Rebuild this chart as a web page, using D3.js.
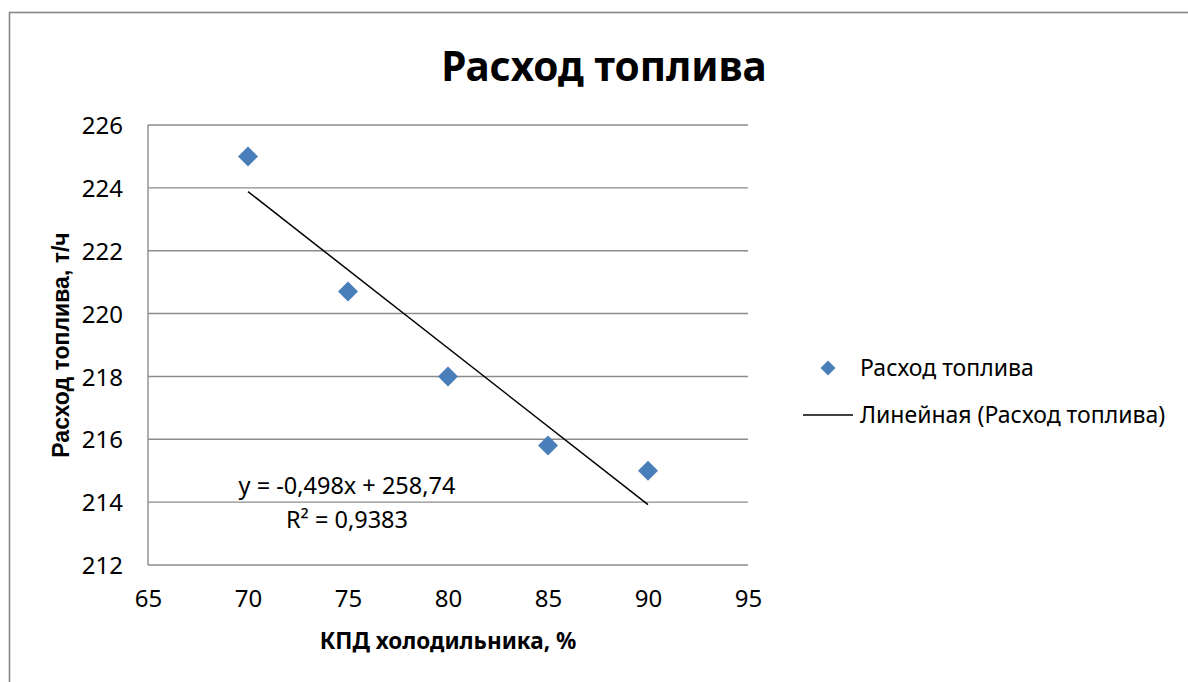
<!DOCTYPE html>
<html><head><meta charset="utf-8">
<script src="https://cdn.jsdelivr.net/npm/d3@7"></script>
<style>body{margin:0;background:#fff}svg{display:block}</style>
</head><body>
<script>
const efficiency = [70, 75, 80, 85, 90];
const fuel = [225, 220.7, 218, 215.8, 215];
const xTicks = [65, 70, 75, 80, 85, 90, 95];
const yTicks = [212, 214, 216, 218, 220, 222, 224, 226];
const trendSlope = -0.498, trendIntercept = 258.74;
const trendRange = [70, 90];
const titleText = "Расход топлива";
const xTitle = "КПД холодильника, %";
const yTitle = "Расход топлива, т/ч";
const eqText = "y = -0,498x + 258,74";
const r2Text = "R² = 0,9383";
const legendLabels = ["Расход топлива", "Линейная (Расход топлива)"];

const W = 1188, H = 682;
const font = "'Noto Sans', 'Open Sans', sans-serif";
const svg = d3.select("body").append("svg").attr("width", W).attr("height", H);

svg.append("rect").attr("x", 9.5).attr("y", 12.5).attr("width", 1300).attr("height", 800)
  .attr("fill", "none").attr("stroke", "#878787").attr("stroke-width", 1.6);

const x = d3.scaleLinear().domain([65, 95]).range([148, 748]);
const y = d3.scaleLinear().domain([212, 226]).range([565, 125]);

// gridlines
svg.append("g").selectAll("line").data(yTicks).join("line")
  .attr("x1", x(65)).attr("x2", x(95)).attr("y1", d => y(d)).attr("y2", d => y(d))
  .attr("stroke", "#8c8c8c").attr("stroke-width", 1.4);
svg.append("line").attr("x1", x(65)).attr("x2", x(65)).attr("y1", y(212)).attr("y2", y(226))
  .attr("stroke", "#8c8c8c").attr("stroke-width", 1.4);

// axes labels via d3 axes
const yAxis = svg.append("g").attr("transform", `translate(${x(65)},0)`)
  .call(d3.axisLeft(y).tickValues(yTicks).tickSize(0).tickPadding(25).tickFormat(d3.format("d")));
const xAxis = svg.append("g").attr("transform", `translate(0,${y(212)})`)
  .call(d3.axisBottom(x).tickValues(xTicks).tickSize(0).tickPadding(25).tickFormat(d3.format("d")));
[yAxis, xAxis].forEach(g => {
  g.select(".domain").remove();
  g.selectAll("text").attr("font-family", font).attr("font-size", 24).attr("fill", "#000");
});
yAxis.selectAll("text").attr("dy", "0.36em");
xAxis.selectAll("text").attr("dy", "0.72em");

// trendline
svg.append("line")
  .attr("x1", x(trendRange[0])).attr("y1", y(trendSlope * trendRange[0] + trendIntercept))
  .attr("x2", x(trendRange[1])).attr("y2", y(trendSlope * trendRange[1] + trendIntercept))
  .attr("stroke", "#000").attr("stroke-width", 1.5);

// markers
const diamond = d3.symbol().type(d3.symbolSquare).size(200);
svg.append("g").selectAll("path").data(efficiency.map((e, i) => [e, fuel[i]])).join("path")
  .attr("d", diamond)
  .attr("transform", d => `translate(${x(d[0])},${y(d[1])}) rotate(45)`)
  .attr("fill", "#4a7ebb");

// title
svg.append("text").attr("x", 604).attr("y", 81).attr("text-anchor", "middle")
  .attr("font-family", font).attr("font-weight", "bold").attr("font-size", 40.5).text(titleText);

// axis titles
svg.append("text").attr("x", x(80)).attr("y", 649).attr("text-anchor", "middle")
  .attr("font-family", font).attr("font-weight", "bold").attr("font-size", 22.5).text(xTitle);
svg.append("text").attr("transform", `translate(69,${(y(212) + y(226)) / 2}) rotate(-90)`)
  .attr("text-anchor", "middle").attr("font-family", "'Liberation Sans', Arial, sans-serif")
  .attr("font-weight", "bold").attr("font-size", 23).text(yTitle);

// equation
svg.append("text").attr("x", 347).attr("y", 494).attr("text-anchor", "middle")
  .attr("font-family", font).attr("font-size", 23.5).text(eqText);
svg.append("text").attr("x", 347).attr("y", 528).attr("text-anchor", "middle")
  .attr("font-family", font).attr("font-size", 23.5).text(r2Text);

// legend
svg.append("path").attr("d", d3.symbol().type(d3.symbolSquare).size(110))
  .attr("transform", "translate(828,368) rotate(45)").attr("fill", "#4a7ebb");
svg.append("line").attr("x1", 803).attr("x2", 853).attr("y1", 415).attr("y2", 415)
  .attr("stroke", "#000").attr("stroke-width", 1.5);
legendLabels.forEach((t, i) => {
  svg.append("text").attr("x", 860).attr("y", 376 + i * 47)
    .attr("font-family", font).attr("font-size", 23).text(t);
});
</script>
</body></html>
